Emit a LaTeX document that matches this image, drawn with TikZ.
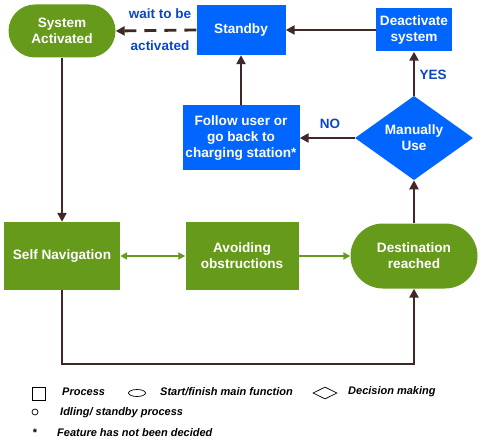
\documentclass[tikz,border=0pt]{standalone}
\usepackage{fontspec}
\setmainfont{Liberation Sans}
\usetikzlibrary{shapes.geometric,shapes.misc,arrows.meta}
\definecolor{gr}{HTML}{669A1A}
\definecolor{bl}{HTML}{0066FF}
\definecolor{ar}{HTML}{402828}
\definecolor{lb}{HTML}{0A46C8}
\begin{document}
\begin{tikzpicture}[x=1pt,y=-1pt,
  txt/.style={text=white,font=\fontsize{13.6}{16}\selectfont\bfseries,align=center,inner sep=0pt},
  gbox/.style={txt,fill=gr,rectangle},
  bbox/.style={txt,fill=bl,rectangle},
  stad/.style={txt,fill=gr,rounded rectangle},
  dec/.style={txt,fill=bl,diamond},
  conn/.style={draw=ar,line width=2.8pt,-{Triangle[length=9pt,width=9pt]}},
  gconn/.style={draw=gr,line width=2.2pt,-{Triangle[length=7pt,width=7pt]}},
  lab/.style={text=lb,font=\fontsize{13.5}{15}\selectfont\bfseries,inner sep=0pt},
  leg/.style={font=\fontsize{11}{13}\selectfont\bfseries\itshape,anchor=west,inner sep=0pt}]
\useasboundingbox (0,0) rectangle (481,446);
\node[stad,minimum width=107pt,minimum height=53pt] (sa) at (62,31) {System\\Activated};
\node[bbox,minimum width=89pt,minimum height=50pt] (sb) at (241,30) {Standby};
\node[bbox,minimum width=76pt,minimum height=43pt] (de) at (414,30) {Deactivate\\system};
\node[bbox,minimum width=117pt,minimum height=65pt] (fu) at (241,138) {Follow user or\\go back to\\charging station*};
\node[dec,minimum width=118pt,minimum height=81pt] (mu) at (414,138) {Manually\\Use};
\node[gbox,minimum width=116pt,minimum height=68pt] (sn) at (62,256) {Self Navigation};
\node[gbox,minimum width=113pt,minimum height=68pt] (ao) at (242,256) {Avoiding\\obstructions};
\node[stad,minimum width=127pt,minimum height=65pt] (dr) at (414,256) {Destination\\reached};
\coordinate (c1) at (62,364);
\coordinate (c2) at (414,364);
% connectors
\draw[conn,dash pattern=on 12pt off 8pt] (sb.west) -- (sa.east);
\draw[conn] (de.west) -- (sb.east);
\draw[conn] (fu.north) -- (sb.south);
\draw[conn] (mu.north) -- (de.south);
\draw[conn] (mu.west) -- (fu.east);
\draw[conn] (sa.south) -- (sn.north);
\draw[conn] (dr.north) -- (mu.south);
\draw[conn] (sn.south) -- (c1) -- (c2) -- (dr.south);
\draw[gconn,{Triangle[length=7pt,width=7pt]}-{Triangle[length=7pt,width=7pt]}] (sn.east) -- (ao.west);
\draw[gconn] (ao.east) -- (dr.west);
% labels
\node[lab] (l1) at (160,14) {wait to be};
\node[lab] (l2) at (160,46) {activated};
\node[lab] (l3) at (433,75) {YES};
\node[lab] (l4) at (330,124) {NO};
% legend
\node[draw=black,line width=0.7pt,minimum width=13pt,minimum height=13pt,inner sep=0pt] (k1) at (38.5,393.5) {};
\node[leg] (t1) at (62,392) {Process};
\node[draw=black,line width=0.7pt,ellipse,minimum width=17pt,minimum height=7pt,inner sep=0pt] (k2) at (137,393) {};
\node[leg] (t2) at (160,392) {Start/finish main function};
\node[draw=black,line width=0.7pt,diamond,minimum width=24pt,minimum height=12pt,inner sep=0pt] (k3) at (325,393) {};
\node[leg] (t3) at (348,392) {Decision making};
\node[draw=black,line width=0.7pt,circle,minimum size=6pt,inner sep=0pt] (k4) at (35,412) {};
\node[leg] (t4) at (60,413) {Idling/ standby process};
\node[font=\fontsize{11}{13}\selectfont\bfseries,inner sep=0pt] (k5) at (35,433) {*};
\node[leg] (t5) at (57,433) {Feature has not been decided};
\end{tikzpicture}
\end{document}
